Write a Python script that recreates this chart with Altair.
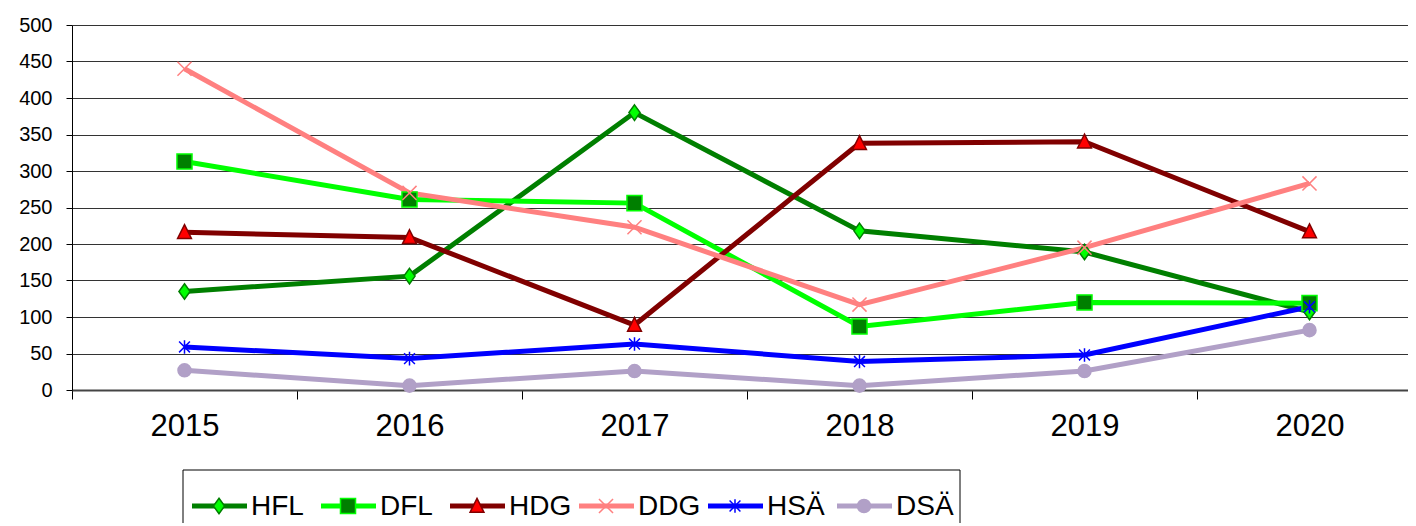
import altair as alt
import pandas as pd

years = ["2015", "2016", "2017", "2018", "2019", "2020"]
series = ["HFL", "DFL", "HDG", "DDG", "HSÄ", "DSÄ"]

HFL = [135, 156, 380, 218, 189, 107]
DFL = [313, 261, 256, 87, 120, 119]
HDG = [216, 209, 89, 338, 340, 217]
DDG = [440, 270, 223, 117, 195, 283]
HSA = [59, 43, 63, 39, 48, 114]
DSA = [27, 6, 26, 6, 26, 82]
y_ticks = [0, 50, 100, 150, 200, 250, 300, 350, 400, 450, 500]

line_colors = ["#007F00", "#00FF00", "#800000", "#FF8080", "#0000FF", "#B1A0C7"]
marker_fill = ["#00FF00", "#007F00", "#FF0000", "#FF8080", "#0000FF", "#B1A0C7"]
marker_stroke = ["#007F00", "#00FF00", "#800000", "#FF8080", "#0000FF", "#B1A0C7"]
marker_shape = [
    "M0,-1L0.72,0L0,1L-0.72,0Z",
    "M-1,-1L1,-1L1,1L-1,1Z",
    "M0,-1.05L0.95,0.85L-0.95,0.85Z",
    "M-1,-1L1,1M1,-1L-1,1",
    "M0,-1L0,1M-0.8,-0.8L0.8,0.8M-0.8,0.8L0.8,-0.8",
    "circle",
]
marker_size = [240, 170, 380, 300, 380, 360]
marker_sw = [1.5, 1.5, 1.5, 2, 2, 1]

values = {"HFL": HFL, "DFL": DFL, "HDG": HDG, "DDG": DDG, "HSÄ": HSA, "DSÄ": DSA}
rows = []
for i, s in enumerate(series):
    for y, v in zip(years, values[s]):
        rows.append({"year": y, "value": v, "series": s, "order": i})
df = pd.DataFrame(rows)
leg = pd.DataFrame({"series": series, "order": list(range(len(series)))})

FONT = "Liberation Sans"

xscale = alt.Scale(domain=years, range=[0, 1350], paddingInner=0, paddingOuter=0)
yscale = alt.Scale(domain=[0, 500], nice=False)

color = alt.Color("series:N", scale=alt.Scale(domain=series, range=line_colors), legend=None)
fill = alt.Fill("series:N", scale=alt.Scale(domain=series, range=marker_fill), legend=None)
stroke = alt.Stroke("series:N", scale=alt.Scale(domain=series, range=marker_stroke), legend=None)
shape = alt.Shape("series:N", scale=alt.Scale(domain=series, range=marker_shape), legend=None)
size = alt.Size("series:O", scale=alt.Scale(domain=series, range=marker_size), legend=None)
sw = alt.StrokeWidth("series:O", scale=alt.Scale(domain=series, range=marker_sw), legend=None)

xaxis = alt.Axis(
    title=None, labelAngle=0, labelFontSize=31, labelFont=FONT, labelColor="black",
    tickBand="extent", tickSize=9, tickColor="black", tickWidth=1,
    domainColor="#444444", domainWidth=2, grid=False, labelPadding=12,
)
yaxis = alt.Axis(
    title=None, values=y_ticks, labelFontSize=20, labelFont=FONT, labelOverlap=False,
    labelColor="black", tickSize=6, tickColor="black", domainColor="black",
    domainWidth=1, grid=True, gridColor="#333333", gridWidth=1, labelPadding=14,
)

base = alt.Chart(df)
lines = base.mark_line(strokeWidth=5).encode(
    x=alt.X("year:N", scale=xscale, axis=xaxis),
    y=alt.Y("value:Q", scale=yscale, axis=yaxis),
    color=color,
    detail="series:N",
    order=alt.Order("order:Q"),
)
points = base.mark_point(filled=True, opacity=1).encode(
    x=alt.X("year:N", scale=xscale, axis=xaxis),
    y=alt.Y("value:Q", scale=yscale, axis=yaxis),
    fill=fill, stroke=stroke, shape=shape, size=size, strokeWidth=sw,
)
main = alt.layer(lines, points)

lx = alt.X("series:N", scale=alt.Scale(type="point", domain=series, range=[147, 792], padding=0), axis=None)
LY = 481
box = alt.Chart(alt.Data(values=[{"k": 1}])).mark_rect(
    fill="white", stroke="black", strokeWidth=1
).encode(x=alt.value(111), x2=alt.value(888), y=alt.value(445), y2=alt.value(530))
lrule = alt.Chart(leg).mark_rule(strokeWidth=5, xOffset=-27, x2Offset=28).encode(
    x=lx, x2="series:N", y=alt.value(LY), color=color
)
lpts = alt.Chart(leg).mark_point(filled=True, opacity=1).encode(
    x=lx, y=alt.value(LY), fill=fill, stroke=stroke, shape=shape, size=size, strokeWidth=sw
)
ltext = alt.Chart(leg).mark_text(
    align="left", baseline="middle", dx=32, fontSize=28, font=FONT, color="black"
).encode(x=lx, y=alt.value(LY + 1), text="series:N")
legend = alt.layer(box, lrule, lpts, ltext)

chart = alt.layer(main, legend).resolve_scale(x="independent").properties(
    width=1336, height=365,
    autosize=alt.AutoSizeParams(type="none"),
    padding={"left": 64, "top": 17, "right": 0, "bottom": 133},
    background="white",
).configure_view(stroke=None)

chart.save("out.html", embed_options={"renderer": "svg", "actions": False})
